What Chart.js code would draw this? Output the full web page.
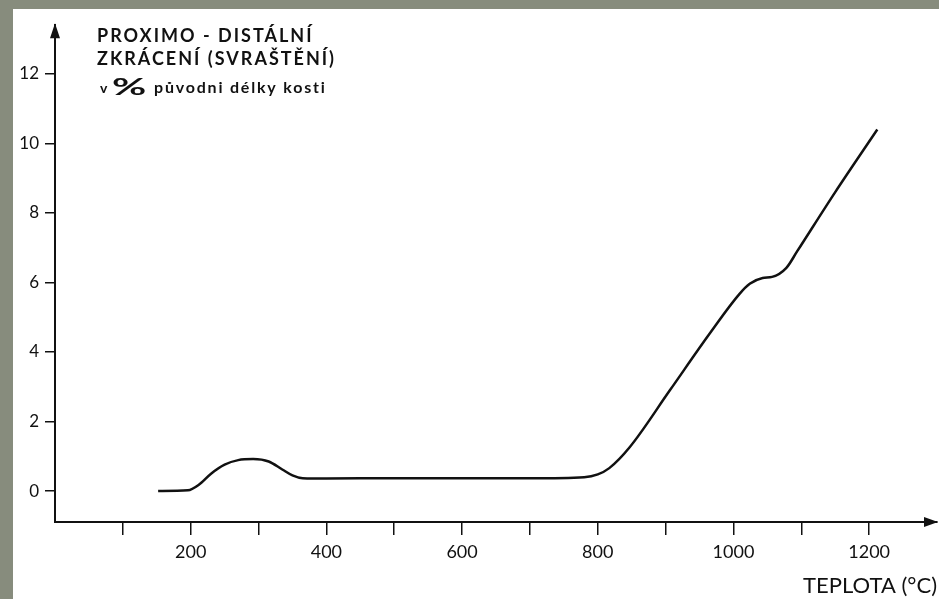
<!DOCTYPE html>
<html>
<head>
<meta charset="utf-8">
<script src="https://cdn.jsdelivr.net/npm/chart.js@4"></script>
<style>
  html, body { margin: 0; padding: 0; background: #878c7d; }
  #sheet { position: absolute; left: 13px; top: 9px; width: 926px; height: 590px; background: #fff; }
</style>
</head>
<body>
<div id="sheet"><canvas id="shrinkChart" width="926" height="590"></canvas></div>
<script>
// temperature (°C) and proximo-distal shortening (% of original bone length)
const temps = [152, 196, 212, 230, 250, 270, 292, 315, 335, 350, 365, 400, 500, 600, 700, 780, 800, 817, 847, 906, 965, 1009, 1024, 1043, 1057, 1078, 1094, 1150, 1212];
const shrink = [0, 0.02, 0.18, 0.5, 0.76, 0.89, 0.92, 0.85, 0.62, 0.45, 0.37, 0.36, 0.37, 0.37, 0.37, 0.4, 0.48, 0.66, 1.26, 2.89, 4.53, 5.67, 5.96, 6.13, 6.16, 6.42, 6.9, 8.6, 10.4];

const xTicks = [100, 200, 300, 400, 500, 600, 700, 800, 900, 1000, 1100, 1200];
const xLabels = [200, 400, 600, 800, 1000, 1200];
const yTicks = [0, 2, 4, 6, 8, 10, 12];

const yCaption = ["PROXIMO - DISTÁLNÍ", "ZKRÁCENÍ (SVRAŠTĚNÍ)"];
const xCaption = "TEPLOTA (°C)";

const ink = "#111";
const font = "Lato";

// arrows on the axes + caption of the y axis
const axisDecor = {
  id: "axisDecor",
  afterDraw(chart) {
    const { ctx, chartArea } = chart;
    ctx.save();
    ctx.fillStyle = ink;
    // y arrow
    ctx.beginPath();
    ctx.moveTo(chartArea.left, chartArea.top - 2);
    ctx.lineTo(chartArea.left - 5, chartArea.top + 13);
    ctx.lineTo(chartArea.left + 5, chartArea.top + 13);
    ctx.closePath();
    ctx.fill();
    // x arrow
    ctx.beginPath();
    ctx.moveTo(chartArea.right + 1, chartArea.bottom);
    ctx.lineTo(chartArea.right - 13, chartArea.bottom - 5);
    ctx.lineTo(chartArea.right - 13, chartArea.bottom + 5);
    ctx.closePath();
    ctx.fill();

    ctx.textBaseline = "alphabetic";
    ctx.letterSpacing = "2px";
    ctx.font = "bold 18px " + font;
    ctx.fillText(yCaption[0], 84, 33);
    ctx.fillText(yCaption[1], 84, 56);
    ctx.font = "bold 14px " + font;
    ctx.letterSpacing = "0px";
    ctx.fillText("v", 87, 84);
    ctx.save();
    ctx.translate(99, 86);
    ctx.scale(1.9, 1);
    ctx.font = "bold 22px " + font;
    ctx.fillText("%", 0, 0);
    ctx.restore();
    ctx.font = "bold 16px " + font;
    ctx.letterSpacing = "1.8px";
    ctx.fillText("původni délky kosti", 141, 84);
    ctx.restore();
  }
};

const ctx = document.getElementById("shrinkChart").getContext("2d");
new Chart(ctx, {
  type: "line",
  data: {
    datasets: [
      {
        data: temps.map((t, i) => ({ x: t, y: shrink[i] })),
        borderColor: ink,
        borderWidth: 2.5,
        pointRadius: 0,
        cubicInterpolationMode: "monotone",
        fill: false,
      },
    ],
  },
  options: {
    responsive: false,
    animation: false,
    layout: { padding: { top: 13, right: 2, left: 0, bottom: 0 } },
    plugins: {
      legend: { display: false },
      tooltip: { enabled: false },
    },
    scales: {
      x: {
        type: "linear",
        min: 0,
        max: 1300,
        afterFit: (s) => { s.height = 77; },
        afterBuildTicks: (s) => { s.ticks = xTicks.map((v) => ({ value: v })); },
        border: { display: true, color: ink, width: 2 },
        grid: { drawOnChartArea: false, tickLength: 13, color: ink, lineWidth: 1.5 },
        ticks: {
          padding: 6,
          color: ink,
          font: { family: font, size: 18 },
          maxRotation: 0,
          autoSkip: false,
          callback: (v) => (xLabels.includes(v) ? String(v) : ""),
        },
        title: {
          display: true,
          text: xCaption,
          align: "end",
          color: ink,
          font: { family: font, size: 22 },
          padding: { top: 0, bottom: 0 },
        },
      },
      y: {
        min: -0.89,
        max: 13.4,
        afterFit: (s) => { s.width = 42; },
        afterBuildTicks: (s) => { s.ticks = yTicks.map((v) => ({ value: v })); },
        border: { display: true, color: ink, width: 2 },
        grid: { drawOnChartArea: false, tickLength: 10, color: ink, lineWidth: 1.5 },
        ticks: {
          padding: 6,
          color: ink,
          font: { family: font, size: 17 },
        },
      },
    },
  },
  plugins: [axisDecor],
});
</script>
</body>
</html>
